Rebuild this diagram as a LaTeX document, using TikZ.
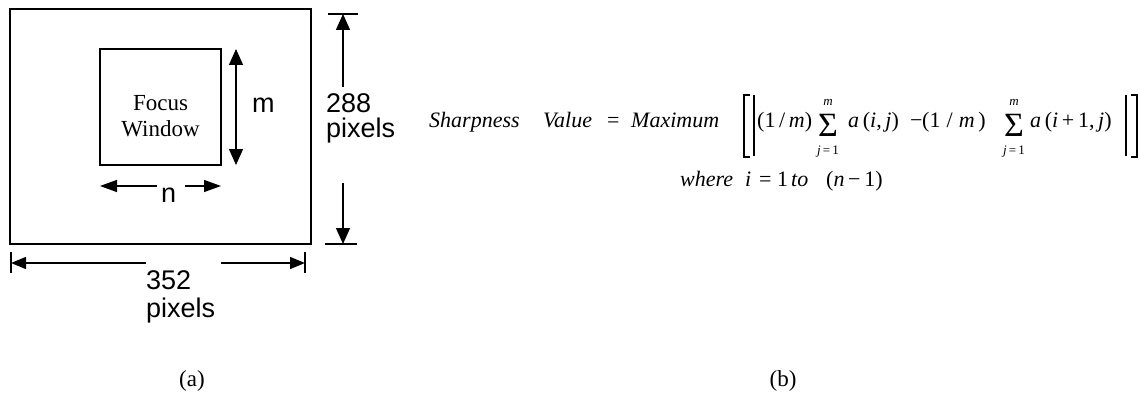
\documentclass[tikz,border=0pt]{standalone}
\usepackage{fontspec}
\setmainfont{Liberation Serif}
\newfontfamily\arialfont{Liberation Sans}
\usetikzlibrary{arrows.meta}

\begin{document}
\begin{tikzpicture}[x=1pt,y=-1pt,
  frame/.style={draw,line width=1.8pt},
  winbox/.style={draw,line width=1.4pt},
  dimline/.style={line width=1.4pt},
  bigtip/.style={dimline,-{Triangle[length=16pt,width=14pt]}},
  midtip/.style={dimline,-{Triangle[length=17pt,width=12pt]}},
  smalltip/.style={dimline,-{Triangle[length=15pt,width=12pt]}},
  tick/.style={line width=1.4pt},
  sanslbl/.style={font=\arialfont\fontsize{27}{27}\selectfont,anchor=base west,inner sep=0pt},
  sansblock/.style={align=left,anchor=north west,inner sep=0pt},
  seriflbl/.style={font=\fontsize{23}{26}\selectfont,anchor=base,inner sep=0pt},
  fx/.style={font=\fontsize{22}{25}\selectfont,anchor=base west,inner sep=0pt},
  sumsym/.style={font=\fontsize{34}{34}\selectfont,inner sep=0pt},
  limit/.style={font=\fontsize{13}{13}\selectfont,anchor=base,inner sep=0pt},
  caption/.style={font=\fontsize{23}{26}\selectfont,anchor=base,inner sep=0pt},
  delim/.style={line width=1.3pt}
]
\useasboundingbox (0,0) rectangle (1140,393);

% ---------------- (a) image frame and focus window ----------------
\draw[frame] (10,9) rectangle (311,244);
\draw[winbox] (100,49) rectangle (221,165);
\node[seriflbl] (focus) at (160.5,111) {Focus};
\node[seriflbl] (window) at (160.5,137) {Window};

% window height m
\coordinate (mtop) at (236,49);
\coordinate (mbot) at (236,165);
\draw[dimline,{Triangle[length=16pt,width=14pt]}-{Triangle[length=16pt,width=14pt]}] (mtop) -- (mbot);
\node[sanslbl] (mlbl) at (252,113) {m};

% window width n
\node[sanslbl] (nlbl) at (161,202) {n};
\coordinate (nl0) at (157,186);
\coordinate (nl1) at (100,186);
\coordinate (nr0) at (185,186);
\coordinate (nr1) at (221,186);
\draw[midtip] (nl0) -- (nl1);
\draw[midtip] (nr0) -- (nr1);

% frame height 288 pixels
\coordinate (htop) at (343,14);
\coordinate (hbot) at (343,244);
\coordinate (hup) at (343,87);
\coordinate (hdn) at (343,183);
\draw[tick] (328,14) -- (358,14);
\draw[tick] (325,244) -- (357,244);
\draw[bigtip] (hup) -- (htop);
\draw[bigtip] (hdn) -- (hbot);
\node[sansblock,font=\arialfont\fontsize{27}{24.5}\selectfont] (hlbl) at (326,93.7) {288\\pixels};

% frame width 352 pixels
\coordinate (wl) at (11,263);
\coordinate (wr) at (305,263);
\coordinate (wl0) at (146,263);
\coordinate (wr0) at (221,263);
\draw[tick] (11,252) -- (11,273);
\draw[tick] (305,252) -- (305,273);
\draw[smalltip] (wl0) -- (wl);
\draw[smalltip] (wr0) -- (wr);
\node[sansblock,font=\arialfont\fontsize{27}{28}\selectfont] (wlbl) at (146,270.7) {352\\pixels};

\node[caption] (capa) at (192,386) {(a)};

% ---------------- (b) sharpness formula ----------------
\node[fx] (t1) at (429,128) {\textit{Sharpness}};
\node[fx] (t2) at (543,128) {\textit{Value}};
\node[fx] (t3) at (607,128) {=};
\node[fx] (t4) at (631,128) {\textit{Maximum}};

% outer bracket and absolute-value bars
\draw[delim] (750,95) -- (744,95) -- (744,157) -- (750,157);
\draw[delim] (754,95) -- (754,156);
\draw[delim] (1126,95) -- (1126,156);
\draw[delim] (1131,95) -- (1137,95) -- (1137,157) -- (1131,157);

\node[fx] (t5) at (757,128) {(1\,/\,\textit{m})};
\node[sumsym] (s1) at (828,125) {Σ};
\node[limit] (s1u) at (828,106) {\textit{m}};
\node[limit] (s1d) at (828,154) {\textit{j}\,=\,1};
\node[fx] (t6) at (848,128) {\textit{a}\,(\textit{i},\,\textit{j})};
\node[fx] (t7) at (910,128) {−};
\node[fx] (t8) at (922,128) {(1\;/\;\textit{m}\,)};
\node[sumsym] (s2) at (1014,125) {Σ};
\node[limit] (s2u) at (1014,106) {\textit{m}};
\node[limit] (s2d) at (1014,154) {\textit{j}\,=\,1};
\node[fx] (t9) at (1030,128) {\textit{a}\,(\textit{i}\,+\,1,\,\textit{j})};

\node[fx] (u1) at (680,186) {\textit{where}};
\node[fx] (u2) at (745,186) {\textit{i}};
\node[fx] (u3) at (759,186) {=};
\node[fx] (u4) at (777,186) {1};
\node[fx] (u5) at (791,186) {\textit{to}};
\node[fx] (u6) at (826,186) {(\textit{n}\,−\,1)};

\node[caption] (capb) at (783,386) {(b)};
\end{tikzpicture}
\end{document}
